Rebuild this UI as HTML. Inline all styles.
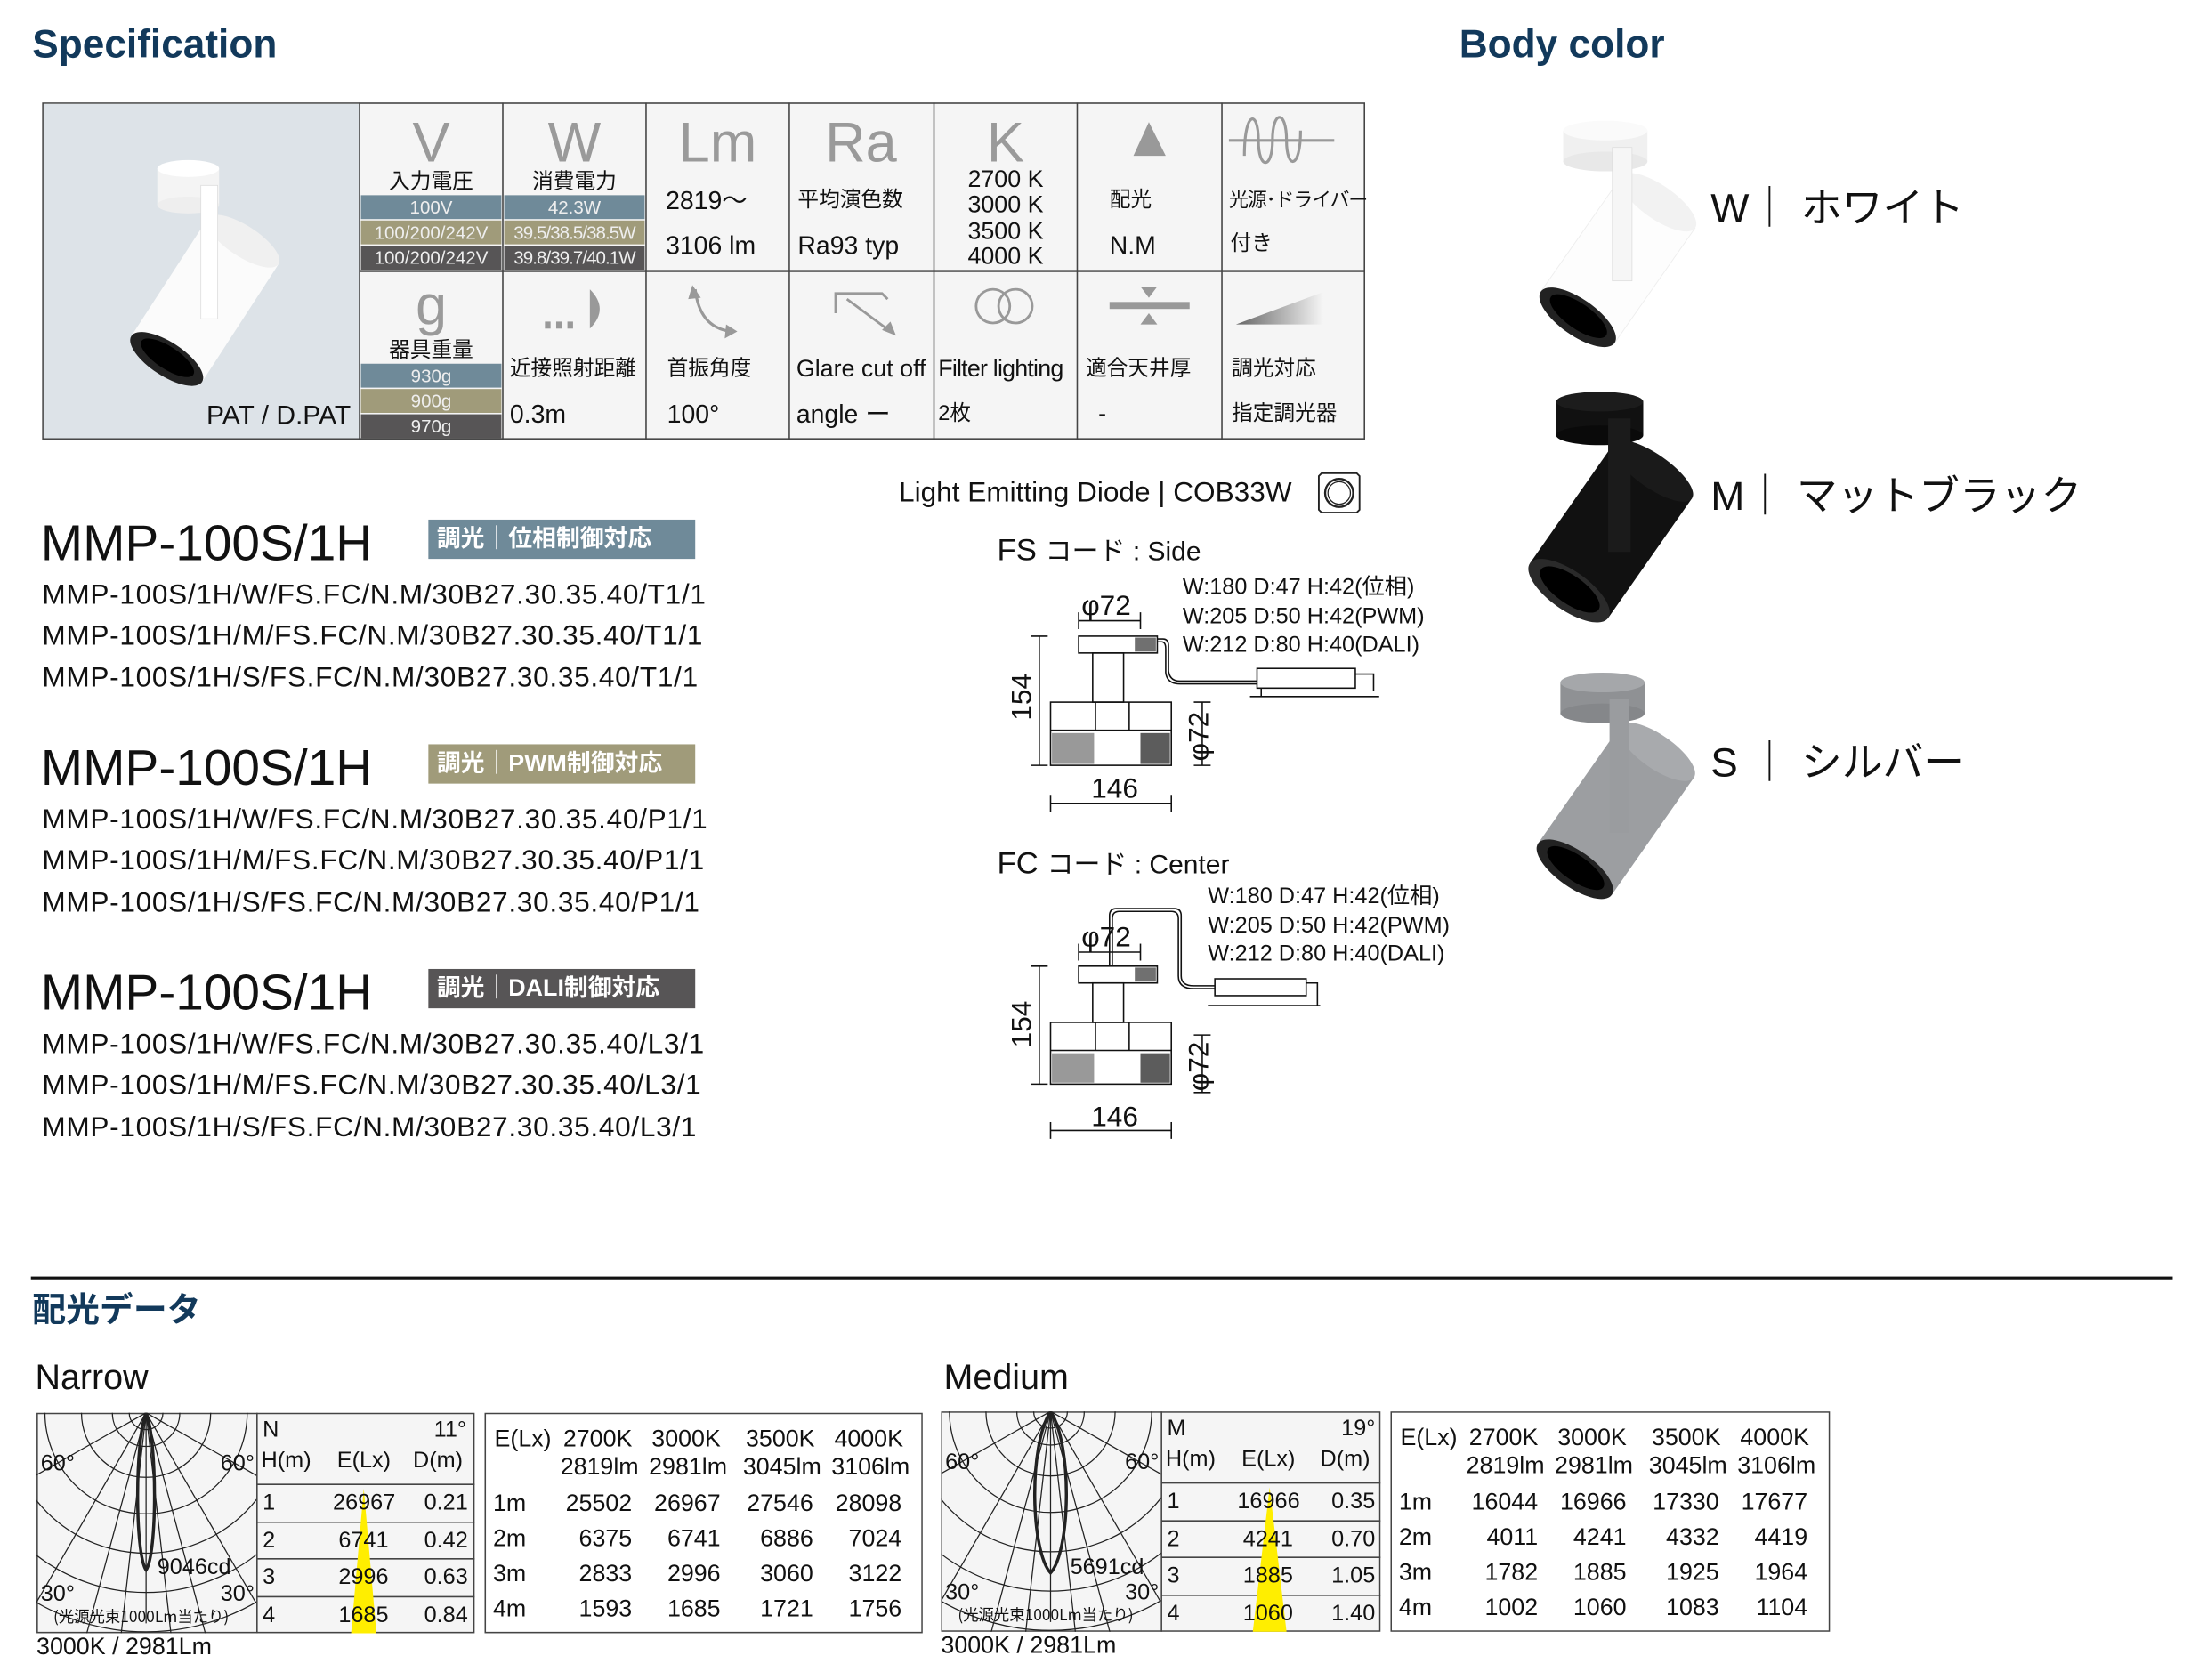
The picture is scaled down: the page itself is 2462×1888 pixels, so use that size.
<!DOCTYPE html>
<html><head><meta charset="utf-8">
<style>
html,body{margin:0;padding:0;background:#fff;}
body{width:2462px;height:1888px;overflow:hidden;position:relative;}
#w{position:absolute;left:0;top:0;width:1560px;height:1196px;transform:scale(1.5782);transform-origin:0 0;font-family:"Liberation Sans","Noto Sans CJK JP",sans-serif;color:#111;}
.a{position:absolute;white-space:nowrap;line-height:1;}
.n{font-family:"Liberation Sans Narrow","Liberation Sans","Noto Sans CJK JP",sans-serif;}
.h{color:#12395b;font-weight:bold;}
.big{color:#9a9a9a;font-size:40px;text-align:center;width:102px;font-family:"Liberation Sans Narrow","Liberation Sans",sans-serif;}
.lbl{font-size:15px;}
.bar{position:absolute;color:#eee;font-size:13px;text-align:center;line-height:17px;height:17px;font-family:"Liberation Sans Narrow","Liberation Sans",sans-serif;overflow:hidden;}
.b1{background:#6f8a99}.b2{background:#a09b7a}.b3{background:#575556}
.mt{font-size:36px;}
.ml{font-size:20px;letter-spacing:0.45px;}
.badge{position:absolute;height:28px;width:190px;color:#fff;font-weight:bold;font-size:17px;line-height:28px;padding-left:6px;box-sizing:border-box;}
</style></head><body><div id="w">

<div class="a h" style="left:23px;top:18px;font-size:28px;">Specification</div>
<div class="a h" style="left:1039px;top:18px;font-size:28px;">Body color</div>

<!-- Spec table -->
<div class="a" style="left:30px;top:73px;width:942px;height:240px;background:#f5f5f5;border:1px solid #444;box-sizing:border-box;"></div>
<div class="a" style="left:31px;top:74px;width:225px;height:238px;background:#dde3e8;"></div>
<svg class="a" style="left:30px;top:73px;" width="942" height="240">
<g stroke="#444" stroke-width="1">
<line x1="226" y1="0" x2="226" y2="240"/><line x1="328" y1="0" x2="328" y2="240"/><line x1="430" y1="0" x2="430" y2="240"/><line x1="532" y1="0" x2="532" y2="240"/><line x1="635" y1="0" x2="635" y2="240"/><line x1="737" y1="0" x2="737" y2="240"/><line x1="840" y1="0" x2="840" y2="240"/>
<line x1="226" y1="120" x2="942" y2="120" stroke-width="1.5"/>
</g>
<polygon points="788,14 777,38 800,38" fill="#999"/>
<g fill="none" stroke="#999" stroke-width="2"><line x1="845" y1="27" x2="920" y2="27"/><path d="M856,38 C856,5 866,5 866,27 C866,48 876,48 876,27 C876,5 886,5 886,27 C886,48 896,48 896,20"/></g>
<g fill="#999"><rect x="358" y="156" width="4" height="5"/><rect x="366" y="156" width="4" height="5"/><rect x="374" y="156" width="4" height="5"/><path d="M390,133 Q404,147 390,161 Z"/></g>
<path d="M465,133 Q468,160 490,163" fill="none" stroke="#999" stroke-width="2"/><polygon points="463,130 460,140 469,139" fill="#999"/><polygon points="495,163 487,158 486,168" fill="#999"/>
<g fill="none" stroke="#999" stroke-width="1.8"><polyline points="565,150 565,136 598,136 602,140"/><line x1="573" y1="140" x2="604" y2="163"/></g><polygon points="608,166 598,162 604,156" fill="#999"/>
<g fill="none" stroke="#999" stroke-width="1.8"><circle cx="677" cy="145" r="12"/><circle cx="693" cy="145" r="12"/></g>
<rect x="760" y="142" width="57" height="5" fill="#999"/><polygon points="782,131 794,131 788,139" fill="#999"/><polygon points="782,158 794,158 788,150" fill="#999"/>
<defs><linearGradient id="gr" x1="0" x2="1"><stop offset="0" stop-color="#666"/><stop offset="1" stop-color="#f5f5f5"/></linearGradient></defs>
<polygon points="850,158 912,135 912,158" fill="url(#gr)"/>
</svg>

<div class="a big" style="left:256px;top:82px;">V</div>
<div class="a lbl" style="left:256px;width:102px;text-align:center;top:122px;">入力電圧</div>
<div class="bar b1" style="left:257px;top:139px;width:100px;">100V</div>
<div class="bar b2" style="left:257px;top:157px;width:100px;">100/200/242V</div>
<div class="bar b3" style="left:257px;top:175px;width:100px;">100/200/242V</div>
<div class="a big" style="left:358px;top:82px;">W</div>
<div class="a lbl" style="left:358px;width:102px;text-align:center;top:122px;">消費電力</div>
<div class="bar b1" style="left:359px;top:139px;width:100px;">42.3W</div>
<div class="bar b2" style="left:359px;top:157px;width:100px;letter-spacing:-0.6px;">39.5/38.5/38.5W</div>
<div class="bar b3" style="left:359px;top:175px;width:100px;letter-spacing:-0.6px;">39.8/39.7/40.1W</div>
<div class="a big" style="left:460px;top:82px;">Lm</div>
<div class="a n" style="left:474px;top:134px;font-size:18px;">2819～</div>
<div class="a n" style="left:474px;top:166px;font-size:18px;">3106 lm</div>
<div class="a big" style="left:562px;top:82px;">Ra</div>
<div class="a lbl" style="left:568px;top:135px;">平均演色数</div>
<div class="a n" style="left:568px;top:166px;font-size:18px;">Ra93 typ</div>
<div class="a big" style="left:665px;top:82px;">K</div>
<div class="a n" style="left:665px;width:102px;text-align:center;top:119px;font-size:17px;line-height:18.3px;white-space:normal;">2700 K<br>3000 K<br>3500 K<br>4000 K</div>
<div class="a lbl" style="left:790px;top:135px;">配光</div>
<div class="a n" style="left:790px;top:166px;font-size:18px;">N.M</div>
<div class="a lbl" style="left:875px;top:135px;font-size:14px;letter-spacing:-0.8px;">光源･ドライバー</div>
<div class="a lbl" style="left:876px;top:166px;">付き</div>
<div class="a big" style="left:256px;top:198px;">g</div>
<div class="a lbl" style="left:256px;width:102px;text-align:center;top:242px;">器具重量</div>
<div class="bar b1" style="left:257px;top:259px;width:100px;">930g</div>
<div class="bar b2" style="left:257px;top:277px;width:100px;">900g</div>
<div class="bar b3" style="left:257px;top:295px;width:100px;">970g</div>
<div class="a lbl" style="left:363px;top:255px;">近接照射距離</div>
<div class="a n" style="left:363px;top:286px;font-size:18px;">0.3m</div>
<div class="a lbl" style="left:475px;top:255px;">首振角度</div>
<div class="a n" style="left:475px;top:286px;font-size:18px;">100°</div>
<div class="a n" style="left:567px;top:254px;font-size:17px;">Glare cut off</div>
<div class="a n" style="left:567px;top:286px;font-size:18px;">angle ー</div>
<div class="a n" style="left:668px;top:254px;font-size:17px;letter-spacing:-0.5px;">Filter lighting</div>
<div class="a lbl" style="left:668px;top:287px;">2枚</div>
<div class="a lbl" style="left:773px;top:255px;">適合天井厚</div>
<div class="a" style="left:782px;top:286px;font-size:17px;">-</div>
<div class="a lbl" style="left:877px;top:255px;">調光対応</div>
<div class="a lbl" style="left:877px;top:287px;">指定調光器</div>
<div class="a n" style="left:147px;top:287px;font-size:19px;">PAT / D.PAT</div>

<svg class="a" style="left:75px;top:112px;" width="130" height="175" viewBox="0 0 130 175">
<g transform="rotate(33,72,100)"><rect x="42" y="52" width="60" height="100" fill="#fbfbfb"/><ellipse cx="72" cy="52" rx="30" ry="11" fill="#f0f0f0"/><ellipse cx="72" cy="152" rx="30" ry="12" fill="#222"/><ellipse cx="72" cy="151" rx="22" ry="8" fill="#000"/></g>
<rect x="37" y="8" width="44" height="26" fill="#f4f4f4"/><ellipse cx="59" cy="8" rx="22" ry="6" fill="#fff"/><ellipse cx="59" cy="34" rx="22" ry="6" fill="#eee"/>
<rect x="68" y="20" width="12" height="95" fill="#fff" stroke="#ddd" stroke-width="0.5"/>
</svg>

<svg class="a" style="left:1080px;top:85px;" width="130" height="175" viewBox="0 0 130 175">
<g transform="rotate(35,72,100)"><rect x="40" y="50" width="64" height="100" fill="#fdfdfd" stroke="#eee" stroke-width="0.6"/><ellipse cx="72" cy="50" rx="32" ry="12" fill="#f2f2f2"/><ellipse cx="72" cy="150" rx="32" ry="13" fill="#222"/><ellipse cx="72" cy="149" rx="24" ry="9" fill="#000"/></g>
<rect x="33" y="8" width="60" height="22" fill="#f0f0f0"/><ellipse cx="63" cy="8" rx="30" ry="7" fill="#fafafa"/><ellipse cx="63" cy="30" rx="30" ry="7" fill="#e8e8e8"/>
<rect x="68" y="20" width="14" height="95" fill="#f6f6f6" stroke="#ddd" stroke-width="0.5"/>
</svg>
<svg class="a" style="left:1075px;top:278px;" width="135" height="175" viewBox="0 0 135 175">
<g transform="rotate(35,72,100)"><rect x="38" y="48" width="68" height="104" fill="#111"/><ellipse cx="72" cy="48" rx="34" ry="12" fill="#1a1a1a"/><ellipse cx="72" cy="152" rx="34" ry="14" fill="#2a2a2a"/><ellipse cx="72" cy="151" rx="25" ry="10" fill="#000"/></g>
<rect x="33" y="8" width="62" height="24" fill="#111"/><ellipse cx="64" cy="8" rx="31" ry="7" fill="#1c1c1c"/><ellipse cx="64" cy="32" rx="31" ry="7" fill="#0a0a0a"/>
<rect x="70" y="20" width="16" height="95" fill="#1b1b1b"/>
</svg>
<svg class="a" style="left:1078px;top:478px;" width="135" height="175" viewBox="0 0 135 175">
<g transform="rotate(35,72,100)"><rect x="40" y="48" width="64" height="102" fill="#9c9ea1"/><ellipse cx="72" cy="48" rx="32" ry="12" fill="#a8aaad"/><ellipse cx="72" cy="150" rx="32" ry="13" fill="#222"/><ellipse cx="72" cy="149" rx="24" ry="9" fill="#000"/></g>
<rect x="33" y="8" width="60" height="22" fill="#8f9194"/><ellipse cx="63" cy="8" rx="30" ry="7" fill="#a5a7aa"/><ellipse cx="63" cy="30" rx="30" ry="7" fill="#85878a"/>
<rect x="68" y="20" width="14" height="95" fill="#9a9c9f"/>
</svg>
<div class="a" style="left:1218px;top:135px;font-size:29px;">W｜ ホワイト</div>
<div class="a" style="left:1218px;top:340px;font-size:29px;">M｜ マットブラック</div>
<div class="a" style="left:1218px;top:530px;font-size:29px;">S ｜ シルバー</div>

<div class="a mt" style="left:29px;top:369px;">MMP-100S/1H</div>
<div class="badge b1" style="left:305px;top:370px;">調光｜位相制御対応</div>
<div class="a ml" style="left:30px;top:414px;">MMP-100S/1H/W/FS.FC/N.M/30B27.30.35.40/T1/1</div>
<div class="a ml" style="left:30px;top:443px;">MMP-100S/1H/M/FS.FC/N.M/30B27.30.35.40/T1/1</div>
<div class="a ml" style="left:30px;top:473px;">MMP-100S/1H/S/FS.FC/N.M/30B27.30.35.40/T1/1</div>
<div class="a mt" style="left:29px;top:529px;">MMP-100S/1H</div>
<div class="badge b2" style="left:305px;top:530px;">調光｜PWM制御対応</div>
<div class="a ml" style="left:30px;top:574px;">MMP-100S/1H/W/FS.FC/N.M/30B27.30.35.40/P1/1</div>
<div class="a ml" style="left:30px;top:603px;">MMP-100S/1H/M/FS.FC/N.M/30B27.30.35.40/P1/1</div>
<div class="a ml" style="left:30px;top:633px;">MMP-100S/1H/S/FS.FC/N.M/30B27.30.35.40/P1/1</div>
<div class="a mt" style="left:29px;top:689px;">MMP-100S/1H</div>
<div class="badge b3" style="left:305px;top:690px;">調光｜DALI制御対応</div>
<div class="a ml" style="left:30px;top:734px;">MMP-100S/1H/W/FS.FC/N.M/30B27.30.35.40/L3/1</div>
<div class="a ml" style="left:30px;top:763px;">MMP-100S/1H/M/FS.FC/N.M/30B27.30.35.40/L3/1</div>
<div class="a ml" style="left:30px;top:793px;">MMP-100S/1H/S/FS.FC/N.M/30B27.30.35.40/L3/1</div>

<div class="a" style="left:640px;top:341px;font-size:20px;">Light Emitting Diode | COB33W</div>
<svg class="a" style="left:938px;top:336px;" width="32" height="30"><path d="M3,1 H28 L30,3 V27 L28,29 H3 L1,27 V3 Z" fill="#fff" stroke="#222" stroke-width="1.2"/><circle cx="15.5" cy="15" r="10" fill="none" stroke="#222" stroke-width="1.5"/><circle cx="15.5" cy="15" r="8" fill="none" stroke="#222" stroke-width="0.8"/></svg>

<div class="a" style="left:710px;top:381px;font-size:22px;">FS <span style="font-size:19px;">コード : Side</span></div>
<div class="a" style="left:842px;top:409px;font-size:16px;line-height:20.5px;">W:180 D:47 H:42(位相)<br>W:205 D:50 H:42(PWM)<br>W:212 D:80 H:40(DALI)</div>
<div class="a" style="left:710px;top:604px;font-size:22px;">FC <span style="font-size:19px;">コード : Center</span></div>
<div class="a" style="left:860px;top:629px;font-size:16px;line-height:20.5px;">W:180 D:47 H:42(位相)<br>W:205 D:50 H:42(PWM)<br>W:212 D:80 H:40(DALI)</div>

<svg class="a" style="left:700px;top:410px;" width="300" height="420">
<g font-family="Liberation Sans" font-size="20" fill="#111">
<text x="70" y="28">φ72</text><text x="77" y="158">146</text>
<text transform="translate(34,103) rotate(-90)">154</text>
<text transform="translate(160,132) rotate(-90)">φ72</text>
<text x="70" y="264">φ72</text><text x="77" y="392">146</text>
<text transform="translate(34,336) rotate(-90)">154</text>
<text transform="translate(160,367) rotate(-90)">φ72</text>
</g>
<g stroke="#111" stroke-width="1" fill="none">
<line x1="68" y1="32" x2="112" y2="32"/><line x1="68" y1="26" x2="68" y2="38"/><line x1="112" y1="26" x2="112" y2="38"/>
<rect x="68" y="43" width="56" height="12"/><rect x="78" y="55" width="22" height="35"/>
<rect x="48" y="90" width="86" height="45"/><line x1="48" y1="110" x2="134" y2="110"/><line x1="80" y1="90" x2="80" y2="110"/><line x1="104" y1="90" x2="104" y2="110"/>
<line x1="40" y1="43" x2="40" y2="135"/><line x1="34" y1="43" x2="46" y2="43"/><line x1="34" y1="135" x2="46" y2="135"/>
<line x1="156" y1="90" x2="156" y2="135"/><line x1="150" y1="90" x2="162" y2="90"/><line x1="150" y1="135" x2="162" y2="135"/>
<line x1="48" y1="162" x2="134" y2="162"/><line x1="48" y1="156" x2="48" y2="168"/><line x1="134" y1="156" x2="134" y2="168"/>
<path d="M124,45 H128 Q132,45 132,50 V68 Q133,75 140,75 H195"/><path d="M124,47 H127 Q130,47 130,52 V69 Q131,77 140,77 H195"/>
<rect x="195" y="66" width="70" height="14"/><line x1="198" y1="80" x2="198" y2="86"/><line x1="190" y1="86" x2="282" y2="86"/><path d="M265,70 H278 V82"/>
<line x1="68" y1="268" x2="112" y2="268"/><line x1="68" y1="262" x2="68" y2="274"/><line x1="112" y1="262" x2="112" y2="274"/>
<rect x="68" y="278" width="56" height="12"/><rect x="78" y="290" width="22" height="28"/>
<rect x="48" y="318" width="86" height="44"/><line x1="48" y1="338" x2="134" y2="338"/><line x1="80" y1="318" x2="80" y2="338"/><line x1="104" y1="318" x2="104" y2="338"/>
<line x1="40" y1="278" x2="40" y2="362"/><line x1="34" y1="278" x2="46" y2="278"/><line x1="34" y1="362" x2="46" y2="362"/>
<line x1="156" y1="327" x2="156" y2="368"/><line x1="150" y1="327" x2="162" y2="327"/><line x1="150" y1="368" x2="162" y2="368"/>
<line x1="48" y1="395" x2="134" y2="395"/><line x1="48" y1="389" x2="48" y2="401"/><line x1="134" y1="389" x2="134" y2="401"/>
<path d="M90,278 V242 Q90,237 95,237 H136 Q141,237 141,242 V285 Q141,292 150,292 H165"/><path d="M92,278 V244 Q92,239 97,239 H134 Q139,239 139,244 V285 Q139,294 150,294 H165"/>
<rect x="165" y="287" width="65" height="12"/><line x1="160" y1="306" x2="240" y2="306"/><path d="M230,290 H238 V306"/>
</g>
<g fill="#333"><rect x="108" y="44" width="15" height="10" opacity="0.7"/><rect x="49" y="112" width="30" height="22" opacity="0.5"/><rect x="112" y="112" width="21" height="22" opacity="0.8"/>
<rect x="108" y="279" width="15" height="10" opacity="0.7"/><rect x="49" y="340" width="30" height="21" opacity="0.5"/><rect x="112" y="340" width="21" height="21" opacity="0.8"/></g>
</svg>

<div class="a" style="left:22px;top:909px;width:1525px;height:2px;background:#111;"></div>
<div class="a h" style="left:23px;top:922px;font-size:24px;">配光データ</div>
<div class="a" style="left:25px;top:969px;font-size:25px;">Narrow</div>
<div class="a" style="left:672px;top:969px;font-size:25px;">Medium</div>

<svg class="a" style="left:26px;top:1006px;" width="312" height="157">
<rect x="0.5" y="0.5" width="311" height="156" fill="#f5f5f5" stroke="#444"/>
<clipPath id="c1"><rect x="0" y="0" width="157" height="157"/></clipPath>
<g clip-path="url(#c1)" fill="none" stroke="#222" stroke-width="0.8">
<circle cx="78" cy="0" r="12"/><circle cx="78" cy="0" r="24"/><circle cx="78" cy="0" r="46"/><circle cx="78" cy="0" r="72"/><circle cx="78" cy="0" r="100"/><circle cx="78" cy="0" r="128"/><circle cx="78" cy="0" r="156"/>
<line x1="78" y1="0" x2="78" y2="150"/><line x1="78" y1="0" x2="-10" y2="50"/><line x1="78" y1="0" x2="166" y2="50"/><line x1="78" y1="0" x2="0" y2="135"/><line x1="78" y1="0" x2="156" y2="135"/><line x1="78" y1="0" x2="35" y2="160"/><line x1="78" y1="0" x2="121" y2="160"/><line x1="78" y1="0" x2="60" y2="160"/><line x1="78" y1="0" x2="96" y2="160"/>
<path d="M78,0 C70,20 70,100 78,112 C86,100 86,20 78,0Z" stroke-width="2.2"/>
</g>
<line x1="157" y1="0" x2="157" y2="157" stroke="#444"/>
<line x1="157" y1="51" x2="312" y2="51" stroke="#444"/><line x1="157" y1="78" x2="312" y2="78" stroke="#444"/><line x1="157" y1="104" x2="312" y2="104" stroke="#444"/><line x1="157" y1="131" x2="312" y2="131" stroke="#444"/>
<polygon points="233,54 224,157 242,157" fill="#ffee00"/>
<g font-family="Liberation Sans Narrow,Liberation Sans" font-size="16" fill="#111">
<text x="3" y="41">60°</text><text x="131" y="41">60°</text><text x="3" y="134">30°</text><text x="131" y="134">30°</text><text x="86" y="115">9046cd</text>
<text x="12" y="149" font-size="11" font-family="Liberation Sans Narrow,Noto Sans CJK JP">(光源光束1000Lm当たり)</text>
<text x="161" y="17">N</text><text x="283" y="17">11°</text><text x="160" y="39">H(m)</text><text x="214" y="39">E(Lx)</text><text x="268" y="39">D(m)</text>
<text x="161" y="69">1</text><text x="211" y="69">26967</text><text x="276" y="69">0.21</text>
<text x="161" y="96">2</text><text x="215" y="96">6741</text><text x="276" y="96">0.42</text>
<text x="161" y="122">3</text><text x="215" y="122">2996</text><text x="276" y="122">0.63</text>
<text x="161" y="149">4</text><text x="215" y="149">1685</text><text x="276" y="149">0.84</text>
</g></svg>
<svg class="a" style="left:345px;top:1006px;" width="312" height="157">
<rect x="0.5" y="0.5" width="311" height="156" fill="#fff" stroke="#444"/>
<g font-family="Liberation Sans Narrow,Liberation Sans" font-size="17" fill="#111">
<text x="7" y="24">E(Lx)</text><text x="56" y="24">2700K</text><text x="119" y="24">3000K</text><text x="186" y="24">3500K</text><text x="249" y="24">4000K</text>
<text x="54" y="44">2819lm</text><text x="117" y="44">2981lm</text><text x="184" y="44">3045lm</text><text x="247" y="44">3106lm</text>
<g text-anchor="end"><text x="105" y="70">25502</text><text x="168" y="70">26967</text><text x="234" y="70">27546</text><text x="297" y="70">28098</text>
<text x="105" y="95">6375</text><text x="168" y="95">6741</text><text x="234" y="95">6886</text><text x="297" y="95">7024</text>
<text x="105" y="120">2833</text><text x="168" y="120">2996</text><text x="234" y="120">3060</text><text x="297" y="120">3122</text>
<text x="105" y="145">1593</text><text x="168" y="145">1685</text><text x="234" y="145">1721</text><text x="297" y="145">1756</text></g>
<text x="6" y="70">1m</text><text x="6" y="95">2m</text><text x="6" y="120">3m</text><text x="6" y="145">4m</text>
</g></svg>
<div class="a" style="left:26px;top:1164px;font-size:17px;">3000K / 2981Lm</div>

<svg class="a" style="left:670px;top:1005px;" width="313" height="157">
<rect x="0.5" y="0.5" width="312" height="156" fill="#f5f5f5" stroke="#444"/>
<clipPath id="c2"><rect x="0" y="0" width="157" height="157"/></clipPath>
<g clip-path="url(#c2)" fill="none" stroke="#222" stroke-width="0.8">
<circle cx="78" cy="0" r="12"/><circle cx="78" cy="0" r="24"/><circle cx="78" cy="0" r="46"/><circle cx="78" cy="0" r="72"/><circle cx="78" cy="0" r="100"/><circle cx="78" cy="0" r="128"/><circle cx="78" cy="0" r="156"/>
<line x1="78" y1="0" x2="78" y2="150"/><line x1="78" y1="0" x2="-10" y2="50"/><line x1="78" y1="0" x2="166" y2="50"/><line x1="78" y1="0" x2="0" y2="135"/><line x1="78" y1="0" x2="156" y2="135"/><line x1="78" y1="0" x2="35" y2="160"/><line x1="78" y1="0" x2="121" y2="160"/><line x1="78" y1="0" x2="60" y2="160"/><line x1="78" y1="0" x2="96" y2="160"/>
<path d="M78,0 C62,25 64,100 78,115 C92,100 94,25 78,0Z" stroke-width="2.2"/>
</g>
<line x1="157" y1="0" x2="157" y2="157" stroke="#444"/>
<line x1="157" y1="51" x2="313" y2="51" stroke="#444"/><line x1="157" y1="78" x2="313" y2="78" stroke="#444"/><line x1="157" y1="104" x2="313" y2="104" stroke="#444"/><line x1="157" y1="131" x2="313" y2="131" stroke="#444"/>
<polygon points="234,54 222,157 246,157" fill="#ffee00"/>
<g font-family="Liberation Sans Narrow,Liberation Sans" font-size="16" fill="#111">
<text x="3" y="41">60°</text><text x="131" y="41">60°</text><text x="3" y="134">30°</text><text x="131" y="134">30°</text><text x="92" y="116">5691cd</text>
<text x="12" y="149" font-size="11" font-family="Liberation Sans Narrow,Noto Sans CJK JP">(光源光束1000Lm当たり)</text>
<text x="161" y="17">M</text><text x="285" y="17">19°</text><text x="160" y="39">H(m)</text><text x="214" y="39">E(Lx)</text><text x="270" y="39">D(m)</text>
<text x="161" y="69">1</text><text x="211" y="69">16966</text><text x="278" y="69">0.35</text>
<text x="161" y="96">2</text><text x="215" y="96">4241</text><text x="278" y="96">0.70</text>
<text x="161" y="122">3</text><text x="215" y="122">1885</text><text x="278" y="122">1.05</text>
<text x="161" y="149">4</text><text x="215" y="149">1060</text><text x="278" y="149">1.40</text>
</g></svg>
<svg class="a" style="left:990px;top:1005px;" width="313" height="157">
<rect x="0.5" y="0.5" width="312" height="156" fill="#fff" stroke="#444"/>
<g font-family="Liberation Sans Narrow,Liberation Sans" font-size="17" fill="#111">
<text x="7" y="24">E(Lx)</text><text x="56" y="24">2700K</text><text x="119" y="24">3000K</text><text x="186" y="24">3500K</text><text x="249" y="24">4000K</text>
<text x="54" y="44">2819lm</text><text x="117" y="44">2981lm</text><text x="184" y="44">3045lm</text><text x="247" y="44">3106lm</text>
<g text-anchor="end"><text x="105" y="70">16044</text><text x="168" y="70">16966</text><text x="234" y="70">17330</text><text x="297" y="70">17677</text>
<text x="105" y="95">4011</text><text x="168" y="95">4241</text><text x="234" y="95">4332</text><text x="297" y="95">4419</text>
<text x="105" y="120">1782</text><text x="168" y="120">1885</text><text x="234" y="120">1925</text><text x="297" y="120">1964</text>
<text x="105" y="145">1002</text><text x="168" y="145">1060</text><text x="234" y="145">1083</text><text x="297" y="145">1104</text></g>
<text x="6" y="70">1m</text><text x="6" y="95">2m</text><text x="6" y="120">3m</text><text x="6" y="145">4m</text>
</g></svg>
<div class="a" style="left:670px;top:1163px;font-size:17px;">3000K / 2981Lm</div>

</div></body></html>
